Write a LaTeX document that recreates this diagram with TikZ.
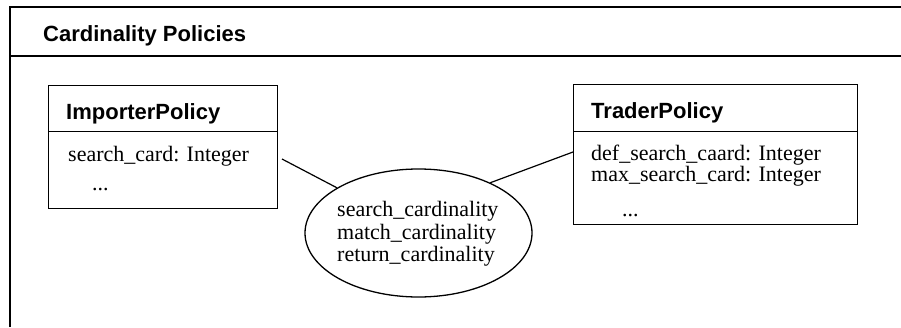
\documentclass[tikz,border=0pt]{standalone}
\usepackage{fontspec}
\setmainfont{Liberation Serif}
\setsansfont{Liberation Sans}
\usetikzlibrary{shapes.geometric}
\begin{document}
\begin{tikzpicture}[x=1pt,y=-1pt,
  frame/.style={line width=1.4pt},
  cls/.style={draw, line width=1.3pt, rectangle, inner sep=0pt, anchor=north west},
  hdr/.style={font=\sffamily\bfseries\fontsize{22}{25}\selectfont, anchor=base west, inner sep=0pt},
  attr/.style={font=\fontsize{22}{25}\selectfont, anchor=base west, inner sep=0pt},
  link/.style={line width=1.2pt}]
\useasboundingbox (0,0) rectangle (901,327);
\fill[white] (0,0) rectangle (901,327);
% package frame
\draw[frame] (10,327) -- (10,7) -- (901,7);
\draw[frame] (10,56) -- (901,56);
\node[hdr] (title) at (43,41.5) {Cardinality Policies};
% ImporterPolicy
\node[cls, minimum width=229pt, minimum height=123pt] (imp) at (48,85) {};
\draw[line width=1.3pt] (imp.west |- 0,131.5) -- (imp.east |- 0,131.5);
\node[hdr] (impname) at (66,119) {ImporterPolicy};
\node[attr] (impa1) at (68,161.5) {search\_card: Integer};
\node[attr] (impa2) at (92,190) {...};
% TraderPolicy
\node[cls, minimum width=284pt, minimum height=140pt] (trd) at (573,84) {};
\draw[line width=1.3pt] (trd.west |- 0,131.5) -- (trd.east |- 0,131.5);
\node[hdr] (trdname) at (591,118) {TraderPolicy};
\node[attr] (trda1) at (591,160.5) {def\_search\_caard: Integer};
\node[attr] (trda2) at (591,181.5) {max\_search\_card: Integer};
\node[attr] (trda3) at (622,216) {...};
% association ellipse
\node[draw, ellipse, line width=1.3pt, minimum width=227pt, minimum height=128pt, inner sep=0pt] (ell) at (418.5,233) {};
\node[attr] (e1) at (337,216.5) {search\_cardinality};
\node[attr] (e2) at (337,239) {match\_cardinality};
\node[attr] (e3) at (337,261.5) {return\_cardinality};
% connectors
\coordinate (impc) at (282,159);
\coordinate (trdc) at (573,152);
\draw[link] (impc) -- (ell.151);
\draw[link] (ell.35) -- (trdc);
\end{tikzpicture}
\end{document}
